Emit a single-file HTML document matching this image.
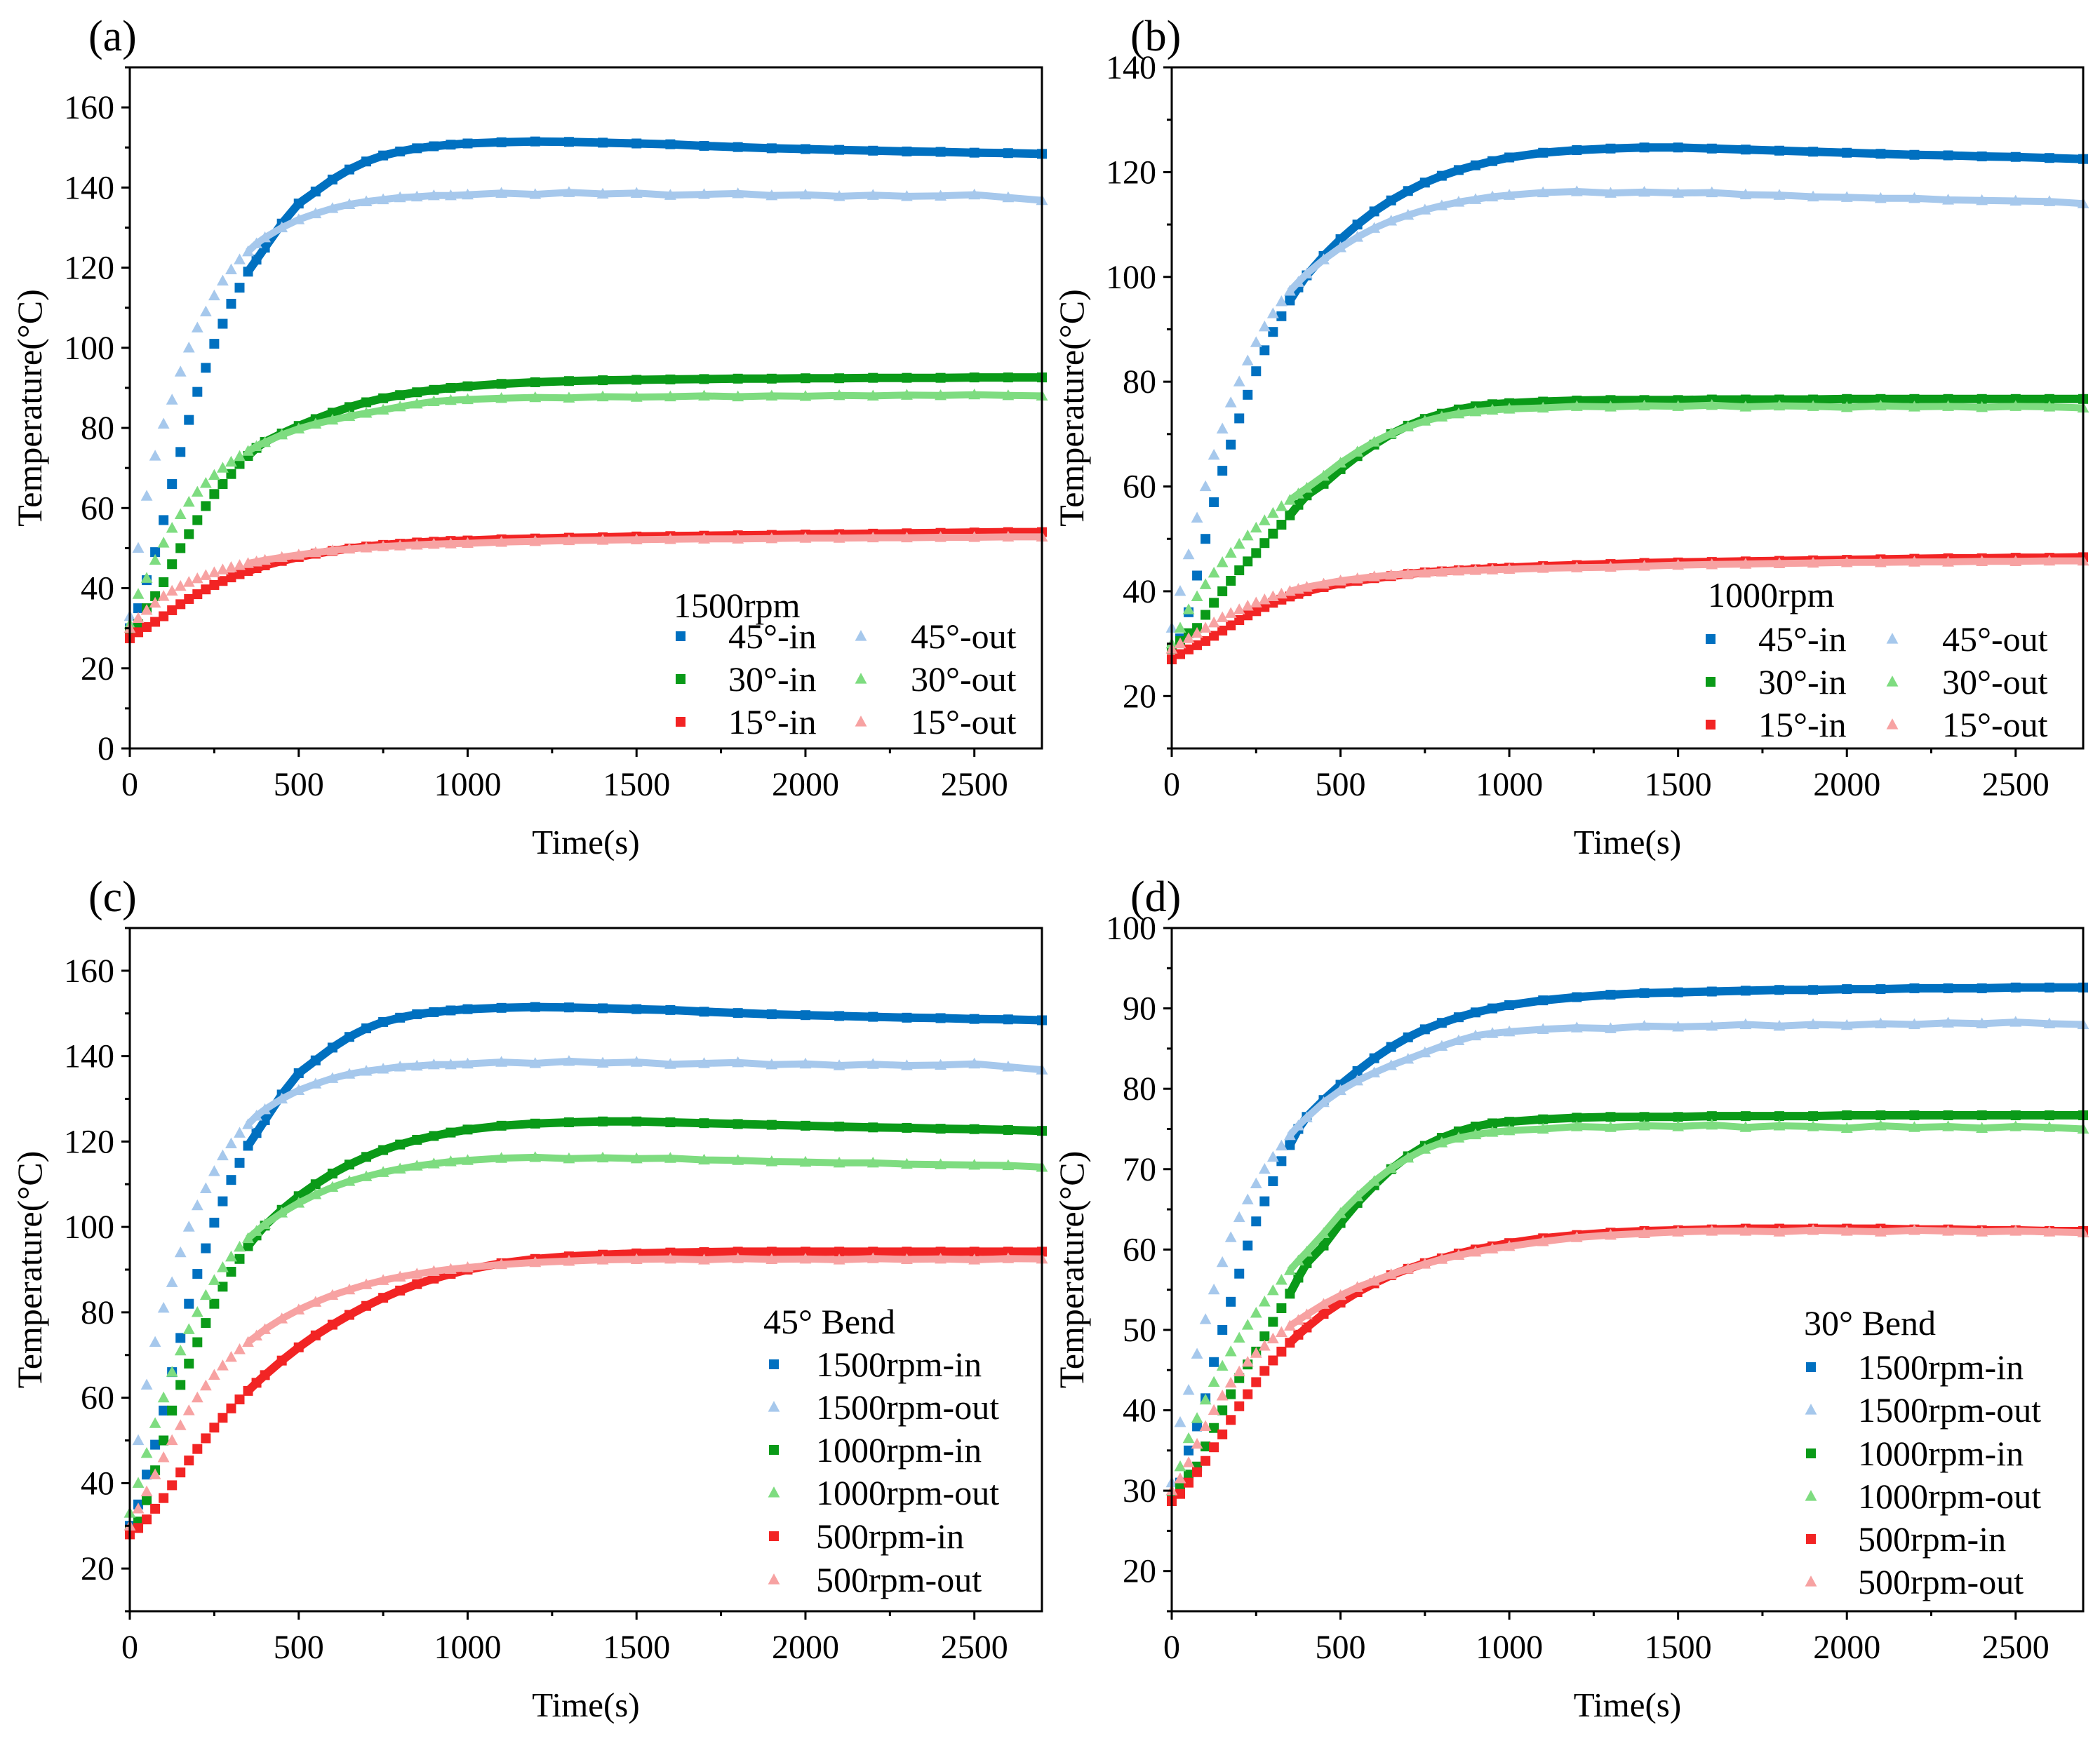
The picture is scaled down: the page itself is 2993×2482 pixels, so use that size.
<!DOCTYPE html>
<html><head><meta charset="utf-8"><style>
html,body{margin:0;padding:0;background:#fff;}
svg{display:block;font-family:"Liberation Serif",serif;}
</style></head><body>
<svg id="fig" width="2993" height="2482" viewBox="0 0 2993 2482" xmlns="http://www.w3.org/2000/svg"></svg>
<script>
// ---- data ----
const times = [0,25,50,75,100,125,150,175,200,225,250,275,300,325,350,375,400,450,500,550,600,650,700,750,800,850,900,950,1000,1100,1200,1300,1400,1500,1600,1700,1800,1900,2000,2100,2200,2300,2400,2500,2600,2700];
const xTicks = [0,500,1000,1500,2000,2500];

const a45in  = [30,35,42,49,57,66,74,82,89,95,101,106,111,115,119,122,125,131,136,139,142,144.5,146.5,148,149,149.8,150.3,150.7,151,151.3,151.5,151.4,151.2,151,150.8,150.4,150.1,149.8,149.6,149.4,149.2,149,148.9,148.7,148.6,148.4];
const a45out = [33,50,63,73,81,87,94,100,105,109,113,116.7,119.5,122,124,126,127.5,130,132,133.5,134.8,135.8,136.5,137,137.5,137.7,138,138,138.2,138.6,138.3,138.8,138.4,138.6,138.1,138.3,138.5,138,138.2,137.8,138.1,137.8,137.9,138.2,137.5,136.8];
const a30in  = [29,31,35,38,41.5,46,50,53.5,57,60.5,63.5,66,68.5,71,73,75,76.5,78.6,80.5,82.2,83.8,85.2,86.4,87.4,88.2,88.9,89.5,90,90.4,91,91.4,91.7,91.9,92,92.1,92.2,92.3,92.3,92.4,92.4,92.5,92.5,92.5,92.6,92.6,92.6];
const a30out = [31,38.5,42.5,47,51.3,55,58.4,61.5,64,66.2,68.2,70,71.5,72.9,74.2,75.4,76.4,78.3,79.8,81,82,82.9,83.7,84.5,85.3,86,86.6,86.9,87.1,87.4,87.6,87.5,87.8,87.7,87.8,88,87.8,88,87.9,88.1,88,88.2,88.1,88.3,88.1,88];
const a15in  = [27.5,29,30.3,31.6,33,34.5,36,37.3,38.5,39.7,40.8,41.8,42.7,43.5,44.3,45,45.7,46.8,47.8,48.6,49.3,49.9,50.4,50.8,51.1,51.4,51.6,51.8,51.9,52.2,52.4,52.6,52.7,52.9,53,53.1,53.2,53.3,53.4,53.5,53.6,53.7,53.8,53.9,54,54];
const a15out = [30,32.5,34.5,36.3,38,39.3,40.5,41.5,42.4,43.2,43.9,44.6,45.2,45.7,46.2,46.6,47,47.7,48.3,48.9,49.4,49.8,50.1,50.4,50.6,50.8,51,51.1,51.2,51.5,51.7,51.9,52,52.1,52.2,52.3,52.3,52.4,52.5,52.5,52.6,52.6,52.7,52.7,52.8,52.8];

const b45in  = [29,31,36,43,50,57,63,68,73,77.5,82,86,89.5,92.5,95.5,98,100.3,104,107.2,110,112.5,114.6,116.4,118,119.3,120.4,121.3,122.1,122.8,123.7,124.2,124.5,124.7,124.7,124.5,124.3,124.1,123.9,123.7,123.5,123.3,123.2,123,122.9,122.7,122.5];
const b45out = [33,40,47,54,60,66,71,76,80,84,87.5,90.5,93,95.3,97.3,99,100.6,103.3,105.6,107.6,109.3,110.7,111.8,112.8,113.6,114.3,114.8,115.3,115.6,116.1,116.3,116,116.2,116,116.1,115.7,115.6,115.3,115.2,115,115,114.7,114.6,114.5,114.4,114];
const b30in  = [29,30.5,32,33,35.5,37.8,40,42,44,45.7,47.3,49.2,51,52.7,54.5,56.5,58.3,60.5,63.3,65.8,68,70,71.6,72.9,73.9,74.7,75.3,75.7,75.9,76.2,76.4,76.5,76.5,76.5,76.6,76.6,76.6,76.6,76.7,76.7,76.7,76.7,76.7,76.7,76.7,76.7];
const b30out = [30,33,36.5,39,41.3,43.5,45.5,47.3,49,50.6,52.1,53.5,54.9,56.2,57.4,58.6,59.7,62,64.5,66.6,68.5,70.1,71.4,72.5,73.3,73.9,74.3,74.6,74.8,75,75.3,75.2,75.4,75.3,75.5,75.2,75.4,75.3,75.1,75.4,75.2,75.3,75.1,75.3,75.2,75];
const b15in  = [27,28,28.9,29.7,30.5,31.5,32.5,33.5,34.5,35.4,36.2,37,37.8,38.4,39,39.5,40,40.8,41.5,42,42.5,42.9,43.3,43.6,43.8,44,44.2,44.4,44.5,44.8,45,45.2,45.4,45.5,45.6,45.7,45.8,45.9,46,46.1,46.2,46.3,46.3,46.4,46.4,46.5];
const b15out = [29,30,31,32,33,34,35,35.8,36.5,37.2,37.8,38.4,39,39.5,40,40.4,40.8,41.4,42,42.4,42.8,43.1,43.3,43.5,43.7,43.9,44,44.1,44.2,44.4,44.5,44.6,44.8,45,45.1,45.2,45.3,45.4,45.5,45.5,45.6,45.6,45.7,45.7,45.8,45.8];

const c500in  = [28,29.5,31.5,34,36.5,39.5,42.5,45.3,48,50.5,53,55.3,57.5,59.6,61.6,63.5,65.3,68.7,71.8,74.6,77.1,79.4,81.5,83.4,85.1,86.6,87.9,89,90,91.5,92.5,93.1,93.5,93.8,94,94.1,94.2,94.2,94.2,94.2,94.2,94.2,94.2,94.2,94.2,94.2];
const c500out = [30,34,38,42,46,50,53.5,57,60,62.8,65.3,67.5,69.5,71.3,73,74.5,76,78.5,80.6,82.4,84,85.3,86.5,87.5,88.3,89,89.6,90.1,90.5,91.2,91.7,92,92.3,92.4,92.5,92.3,92.6,92.4,92.5,92.3,92.6,92.4,92.5,92.3,92.6,92.5];
const d500in  = [28.7,29.6,31,32.3,33.7,35.4,37,38.8,40.5,42,43.5,44.9,46.2,47.3,48.4,49.4,50.3,52,53.4,54.7,55.8,56.8,57.6,58.3,58.9,59.5,60,60.4,60.8,61.4,61.8,62.1,62.3,62.4,62.5,62.6,62.6,62.6,62.6,62.6,62.5,62.5,62.4,62.4,62.3,62.3];
const d500out = [30,31.5,33.5,35.8,38,40,41.8,43.4,44.8,46,47.1,48,48.9,49.7,50.5,51.2,51.9,53.2,54.3,55.3,56.1,56.9,57.6,58.2,58.8,59.3,59.7,60.1,60.4,61,61.5,61.8,62,62.2,62.3,62.3,62.2,62.4,62.3,62.2,62.4,62.3,62.2,62.3,62.2,62.1];

const C = {din:'#0070c0', dout:'#a6c8ec', gin:'#0a9a18', gout:'#7edc80', rin:'#f22424', rout:'#f7a2a2'};

const panels = [
 {id:'a', label:'(a)', L:185,R:1485,T:96,B:1067, ymin:0,ymax:170, yTicks:[0,20,40,60,80,100,120,140,160], yMinor:10,
  lx:126, ly:52, title:'1500rpm', legCols:2, legX:[970,1227], legTX:[1038,1298], legTitleX:960, legTitleY:863, legRowY:[907,968,1029],
  series:[['45°-in',a45in,'s',C.din],['45°-out',a45out,'t',C.dout],['30°-in',a30in,'s',C.gin],['30°-out',a30out,'t',C.gout],['15°-in',a15in,'s',C.rin],['15°-out',a15out,'t',C.rout]]},
 {id:'b', label:'(b)', L:1670,R:2969,T:96,B:1067, ymin:10,ymax:140, yTicks:[20,40,60,80,100,120,140], yMinor:10,
  lx:1611, ly:52, title:'1000rpm', legCols:2, legX:[2438,2697], legTX:[2506,2768], legTitleX:2434, legTitleY:848, legRowY:[911,972,1033],
  series:[['45°-in',b45in,'s',C.din],['45°-out',b45out,'t',C.dout],['30°-in',b30in,'s',C.gin],['30°-out',b30out,'t',C.gout],['15°-in',b15in,'s',C.rin],['15°-out',b15out,'t',C.rout]]},
 {id:'c', label:'(c)', L:185,R:1485,T:1323,B:2297, ymin:10,ymax:170, yTicks:[20,40,60,80,100,120,140,160], yMinor:10,
  lx:126, ly:1279, title:'45° Bend', legCols:1, legX:[1103], legTX:[1163], legTitleX:1088, legTitleY:1884, legRowY:[1945,2006,2067,2128,2190,2252],
  series:[['1500rpm-in',a45in,'s',C.din],['1500rpm-out',a45out,'t',C.dout],['1000rpm-in',b45in,'s',C.gin],['1000rpm-out',b45out,'t',C.gout],['500rpm-in',c500in,'s',C.rin],['500rpm-out',c500out,'t',C.rout]]},
 {id:'d', label:'(d)', L:1670,R:2969,T:1323,B:2297, ymin:15,ymax:100, yTicks:[20,30,40,50,60,70,80,90,100], yMinor:5,
  lx:1611, ly:1279, title:'30° Bend', legCols:1, legX:[2581], legTX:[2648], legTitleX:2571, legTitleY:1886, legRowY:[1949,2010,2072,2133,2194,2255],
  series:[['1500rpm-in',a30in,'s',C.din],['1500rpm-out',a30out,'t',C.dout],['1000rpm-in',b30in,'s',C.gin],['1000rpm-out',b30out,'t',C.gout],['500rpm-in',d500in,'s',C.rin],['500rpm-out',d500out,'t',C.rout]]}
];

const NS='http://www.w3.org/2000/svg';
const svg=document.getElementById('fig');
function mk(tag, attrs, parent){const e=document.createElementNS(NS,tag);for(const k in attrs)e.setAttribute(k,attrs[k]);(parent||svg).appendChild(e);return e;}
function marker(g,shape,x,y,col,sz){
  let e;
  if(shape==='s'){e=mk('rect',{x:x-sz/2,y:y-sz/2,width:sz,height:sz,fill:col},g);}
  else{const h=sz*1.05;e=mk('polygon',{points:`${x},${y-h*0.6} ${x-sz*0.6},${y+h*0.45} ${x+sz*0.6},${y+h*0.45}`,fill:col},g);}
  return e;
}

panels.forEach(p=>{
  const xs=t=>p.L+(t-0)/(2700-0)*(p.R-p.L);
  const ys=v=>p.B-(v-p.ymin)/(p.ymax-p.ymin)*(p.B-p.T);
  const g=mk('g',{});
  
  

  p.series.forEach((s,si)=>{
    const sg=mk('g',{},g);
    
    
    const vals=s[1];
    let pts=[];
    times.forEach((t,i)=>{ if(t>=350) pts.push(xs(t).toFixed(1)+','+ys(vals[i]).toFixed(1)); });
    const pl=mk('polyline',{points:pts.join(' '),fill:'none',stroke:s[3],'stroke-width':s[2]==='s'?12:10,'stroke-linejoin':'round'},sg);
    
    
    times.forEach((t,i)=>{
      const m=marker(sg,s[2],xs(t),ys(vals[i]),s[3],14);
      
      
    });
  });

  const fr=mk('rect',{x:p.L,y:p.T,width:p.R-p.L,height:p.B-p.T,fill:'none',stroke:'#000','stroke-width':3},g);
  
  

  for(let t=0;t<=2700;t+=250){
    const maj=(t%500===0);
    mk('line',{x1:xs(t),x2:xs(t),y1:p.B,y2:p.B+(maj?12:7),stroke:'#000','stroke-width':3},g);
  }
  xTicks.forEach(t=>{
    const tx=mk('text',{x:xs(t),y:p.B+67,'text-anchor':'middle','font-size':48},g);
    tx.textContent=t;
    
    
  });
  for(let v=p.ymin;v<=p.ymax+0.01;v+=p.yMinor){
    const maj=p.yTicks.indexOf(v)>=0;
    mk('line',{x1:p.L,x2:p.L-(maj?12:7),y1:ys(v),y2:ys(v),stroke:'#000','stroke-width':3},g);
  }
  p.yTicks.forEach(v=>{
    const tx=mk('text',{x:p.L-22,y:ys(v)+16,'text-anchor':'end','font-size':48},g);
    tx.textContent=v;
    
    
  });
  const xt=mk('text',{x:(p.L+p.R)/2,y:p.B+150,'text-anchor':'middle','font-size':49},g);
  xt.textContent='Time(s)';
  
  
  const ycx=p.L-126, ycy=(p.T+p.B)/2;
  const yt=mk('text',{x:ycx,y:ycy,'text-anchor':'middle','font-size':50,transform:`rotate(-90 ${ycx} ${ycy})`},g);
  yt.textContent='Temperature(°C)';
  
  
  const pl=mk('text',{x:p.lx,y:p.ly+20,'font-size':62},g);
  pl.textContent=p.label;
  
  

  const lg=mk('g',{},g);
  
  
  const lt=mk('text',{x:p.legTitleX,y:p.legTitleY+17,'font-size':50},lg);
  lt.textContent=p.title;
  
  
  p.series.forEach((s,i)=>{
    let col,row;
    if(p.legCols===2){row=Math.floor(i/2);col=i%2;}else{row=i;col=0;}
    const y=p.legRowY[row];
    const m=marker(lg,s[2],p.legX[col],y,s[3],14);
    
    
    const tx=mk('text',{x:p.legTX[col],y:y+17,'font-size':50},lg);
    tx.textContent=s[0];
    
    
  });
});
</script>
</body></html>
